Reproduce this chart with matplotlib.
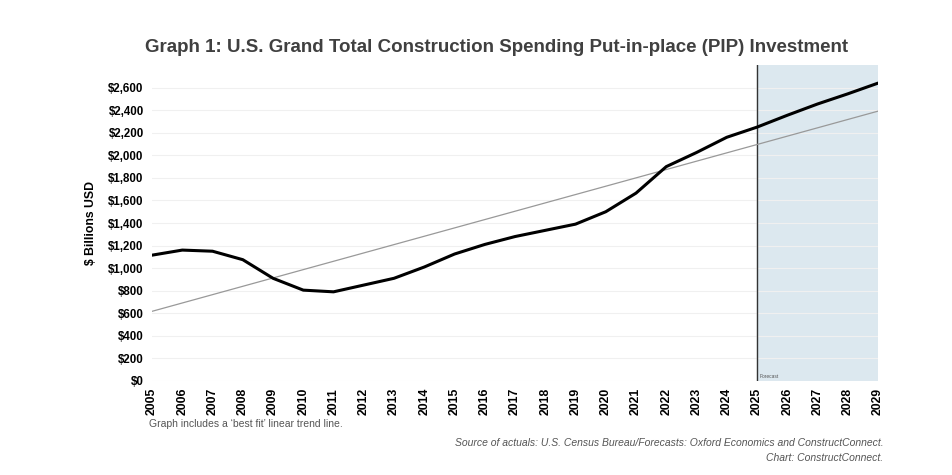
import numpy as np
import matplotlib
matplotlib.use("Agg")
import matplotlib.pyplot as plt
from matplotlib.ticker import FuncFormatter

plt.rcParams['font.family'] = ['Liberation Sans', 'DejaVu Sans']

# data ($ billions)
years = list(range(2005, 2030))
spending = [1115, 1160, 1150, 1075, 910, 805, 790, 850, 910, 1010,
            1125, 1210, 1280, 1335, 1390, 1500, 1665, 1900, 2025, 2160,
            2250, 2355, 2455, 2545, 2640]
forecast_start = 2025
y_ticks = list(range(0, 2601, 200))

fig = plt.figure(figsize=(9.52, 4.75), dpi=100)
ax = fig.add_axes([0.1597, 0.198, 0.7626, 0.665])

# forecast shading
ax.axvspan(forecast_start, years[-1], color='#dce8ef', zorder=0)
ax.axvline(forecast_start, color='#333333', lw=1.0, zorder=1)
ax.text(forecast_start + 0.08, 15, 'Forecast', fontsize=3.5, color='#555555',
        va='bottom', ha='left')

# best fit trend line
slope, icpt = np.polyfit(years, spending, 1)
trend = [slope * y + icpt for y in years]
ax.plot(years, trend, color='#999999', lw=0.9, zorder=2)

ax.plot(years, spending, color='black', lw=2.2, solid_joinstyle='round',
        solid_capstyle='round', zorder=3)

ax.set_xlim(years[0], years[-1])
ax.set_ylim(0, 2800)
ax.set_yticks(y_ticks)
ax.yaxis.set_major_formatter(FuncFormatter(lambda v, p: f'${v:,.0f}'))
ax.set_xticks(years)
ax.set_xticklabels([str(y) for y in years], rotation=90)
for lab in ax.get_xticklabels():
    lab.set_fontweight('bold')
    lab.set_fontsize(8.8)
for lab in ax.get_yticklabels():
    lab.set_fontweight('bold')
    lab.set_fontsize(8.3)
ax.tick_params(axis='x', length=0, pad=5)
ax.tick_params(axis='y', length=0, pad=6)
ax.grid(axis='y', color='#f0f0f0', lw=0.8)
ax.set_axisbelow(True)
for s in ax.spines.values():
    s.set_visible(False)

ax.set_ylabel('$ Billions USD', fontsize=8.8, fontweight='bold', labelpad=8)

fig.text(0.522, 0.90, 'Graph 1: U.S. Grand Total Construction Spending Put-in-place (PIP) Investment',
         ha='center', va='center', fontsize=13.5, fontweight='bold', color='#404040')
fig.text(0.157, 0.107, "Graph includes a \u2018best fit\u2019 linear trend line.",
         fontsize=7.5, color='#555555', va='center')
fig.text(0.928, 0.067, 'Source of actuals: U.S. Census Bureau/Forecasts: Oxford Economics and ConstructConnect.',
         fontsize=7.5, color='#555555', style='italic', ha='right', va='center')
fig.text(0.928, 0.035, 'Chart: ConstructConnect.',
         fontsize=7.5, color='#555555', style='italic', ha='right', va='center')

fig.savefig('out.png', dpi=100)
